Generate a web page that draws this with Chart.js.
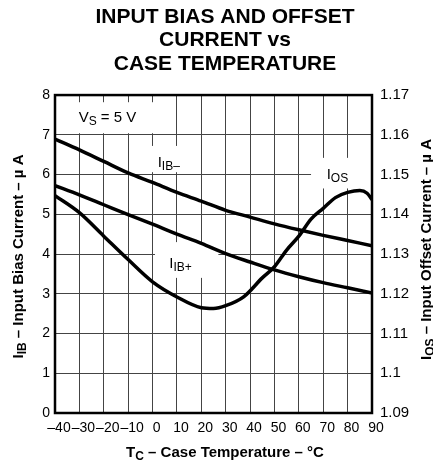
<!DOCTYPE html>
<html><head><meta charset="utf-8">
<script src="https://cdn.jsdelivr.net/npm/chart.js@4.4.1/dist/chart.umd.min.js"></script>
<style>html,body{margin:0;padding:0;background:#fff}</style>
</head><body>
<canvas id="c" width="433" height="462"></canvas>
<script>
const titleLines = ['INPUT BIAS AND OFFSET', 'CURRENT vs', 'CASE TEMPERATURE'];
const xTickValues = [-40, -30, -20, -10, 0, 10, 20, 30, 40, 50, 60, 70, 80, 90];
const xTickLabels = ['–40', '–30', '–20', '–10', '0', '10', '20', '30', '40', '50', '60', '70', '80', '90'];
const leftTickValues = [0, 1, 2, 3, 4, 5, 6, 7, 8];
const rightTickValues = [1.09, 1.10, 1.11, 1.12, 1.13, 1.14, 1.15, 1.16, 1.17];
const rightTickLabels = ['1.09', '1.1', '1.11', '1.12', '1.13', '1.14', '1.15', '1.16', '1.17'];

const biasTemps = [-40, -30, -20, -10, 0, 10, 20, 30, 40, 50, 60, 70, 80, 90];
const iibMinus = [6.89, 6.62, 6.33, 6.04, 5.80, 5.55, 5.33, 5.10, 4.93, 4.76, 4.61, 4.47, 4.34, 4.21];
const iibPlus  = [5.72, 5.49, 5.24, 4.99, 4.75, 4.50, 4.27, 4.01, 3.80, 3.60, 3.43, 3.28, 3.15, 3.02];
const iosTemps = [-40, -30, -20, -10, 0, 10, 20, 25, 30, 37.5, 45, 50, 55, 60, 65, 70, 75, 80, 85, 88, 90];
const iosValues = [1.1447, 1.1404, 1.1345, 1.1286, 1.1230, 1.1192, 1.1165, 1.1163, 1.1170, 1.1193, 1.1240,
                   1.1268, 1.1310, 1.1345, 1.1388, 1.1415, 1.1442, 1.1455, 1.1460, 1.1453, 1.1437];

const FONT = "'Liberation Sans', Arial, Helvetica, sans-serif";
Chart.defaults.font.family = FONT;
Chart.defaults.color = '#000';

function rich(ctx, parts, x, y, size, weight, align) {
  const subSize = Math.round(size * 0.8);
  const fontFor = p => `${weight} ${p[1] ? subSize : size}px ${FONT}`;
  let total = 0;
  const widths = parts.map(p => { ctx.font = fontFor(p); const w = ctx.measureText(p[0]).width; total += w; return w; });
  let cx = align === 'center' ? x - total / 2 : x;
  ctx.textBaseline = 'alphabetic';
  ctx.textAlign = 'left';
  parts.forEach((p, i) => {
    ctx.font = fontFor(p);
    ctx.fillText(p[0], cx, p[1] ? y + size * 0.2 : y);
    cx += widths[i];
  });
}

const whiteBoxes = {
  id: 'whiteBoxes',
  beforeDatasetsDraw(chart) {
    const { ctx, scales: { x, y } } = chart;
    const boxes = [[-40, 5.1, 7.04, 7.82], [-6, 19, 6.06, 6.72], [65, 90, 5.65, 6.42], [1, 27, 3.4, 4.3]];
    ctx.save();
    ctx.fillStyle = '#fff';
    boxes.forEach(b => {
      const x1 = x.getPixelForValue(b[0]), x2 = x.getPixelForValue(b[1]);
      const y1 = y.getPixelForValue(b[3]), y2 = y.getPixelForValue(b[2]);
      ctx.fillRect(x1, y1, x2 - x1, y2 - y1);
    });
    ctx.restore();
  }
};

const frame = {
  id: 'frame',
  afterDatasetsDraw(chart) {
    const { ctx, chartArea: a } = chart;
    ctx.save();
    ctx.strokeStyle = '#000';
    ctx.lineWidth = 2.5;
    ctx.strokeRect(a.left, a.top, a.right - a.left, a.bottom - a.top);
    ctx.restore();
  }
};

const texts = {
  id: 'texts',
  afterDraw(chart) {
    const { ctx, scales: { x, y } } = chart;
    ctx.save();
    ctx.fillStyle = '#000';
    // axis titles
    rich(ctx, [['T', 0], ['C', 1], [' – Case Temperature – °C', 0]], 225, 456.5, 15, 'bold', 'center');
    ctx.save();
    ctx.translate(18, 256.5);
    ctx.rotate(-Math.PI / 2);
    rich(ctx, [['I', 0], ['IB', 1], [' – Input Bias Current – µ A', 0]], 0, 15 * 0.36, 15, 'bold', 'center');
    ctx.restore();
    ctx.save();
    ctx.translate(426, 249.5);
    ctx.rotate(-Math.PI / 2);
    rich(ctx, [['I', 0], ['OS', 1], [' – Input Offset Current – µ A', 0]], 0, 15 * 0.36, 15, 'bold', 'center');
    ctx.restore();
    // annotations
    const px = (t, v) => [x.getPixelForValue(t), y.getPixelForValue(v)];
    let p = px(-30.3, 7.33);
    rich(ctx, [['V', 0], ['S', 1], [' = 5 V', 0]], p[0], p[1], 15, 'normal', 'left');
    p = px(2.1, 6.2);
    rich(ctx, [['I', 0], ['IB–', 1]], p[0], p[1], 15, 'normal', 'left');
    p = px(71.4, 5.9);
    rich(ctx, [['I', 0], ['OS', 1]], p[0], p[1], 15, 'normal', 'left');
    p = px(6.9, 3.64);
    rich(ctx, [['I', 0], ['IB+', 1]], p[0], p[1], 15, 'normal', 'left');
    ctx.restore();
  }
};

const lineStyle = {
  borderColor: '#000', borderWidth: 3.5, pointRadius: 0, fill: false,
  cubicInterpolationMode: 'monotone', borderCapStyle: 'butt', borderJoinStyle: 'round'
};

new Chart(document.getElementById('c'), {
  type: 'line',
  data: {
    datasets: [
      Object.assign({ label: 'IIB−', yAxisID: 'y', data: biasTemps.map((t, i) => ({ x: t, y: iibMinus[i] })) }, lineStyle),
      Object.assign({ label: 'IIB+', yAxisID: 'y', data: biasTemps.map((t, i) => ({ x: t, y: iibPlus[i] })) }, lineStyle),
      Object.assign({ label: 'IOS', yAxisID: 'y2', data: iosTemps.map((t, i) => ({ x: t, y: iosValues[i] })) }, lineStyle)
    ]
  },
  options: {
    responsive: false,
    animation: false,
    devicePixelRatio: 1,
    layout: { padding: { left: 17, right: 0, top: 0, bottom: 0 } },
    plugins: {
      legend: { display: false },
      tooltip: { enabled: false },
      title: {
        display: true, text: titleLines, color: '#000',
        font: { family: FONT, size: 21, weight: 'bold', lineHeight: 1.12 },
        padding: { top: 5, bottom: 19.5 }
      }
    },
    scales: {
      x: {
        type: 'linear', position: 'bottom', min: -40, max: 90,
        afterBuildTicks: s => { s.ticks = xTickValues.map(v => ({ value: v })); },
        afterFit: s => { s.height = 49; },
        ticks: {
          callback: (v, i) => xTickLabels[i], font: { size: 14 }, color: '#000',
          padding: 7, labelOffset: 4, maxRotation: 0, minRotation: 0, autoSkip: false
        },
        grid: { color: '#444', lineWidth: 1, drawTicks: false },
        border: { display: false }
      },
      y: {
        type: 'linear', position: 'left', min: 0, max: 8,
        afterBuildTicks: s => { s.ticks = leftTickValues.map(v => ({ value: v })); },
        afterFit: s => { s.width = 38; },
        ticks: { font: { size: 14 }, color: '#000', padding: 5, callback: v => String(v) },
        grid: { color: '#444', lineWidth: 1, drawTicks: false },
        border: { display: false }
      },
      y2: {
        type: 'linear', position: 'right', min: 1.09, max: 1.17,
        afterBuildTicks: s => { s.ticks = rightTickValues.map(v => ({ value: v })); },
        afterFit: s => { s.width = 61; },
        ticks: { font: { size: 15 }, color: '#000', padding: 8, callback: (v, i) => rightTickLabels[i] },
        grid: { display: false, drawTicks: false },
        border: { display: false }
      }
    }
  },
  plugins: [whiteBoxes, frame, texts]
});
</script>
</body></html>
